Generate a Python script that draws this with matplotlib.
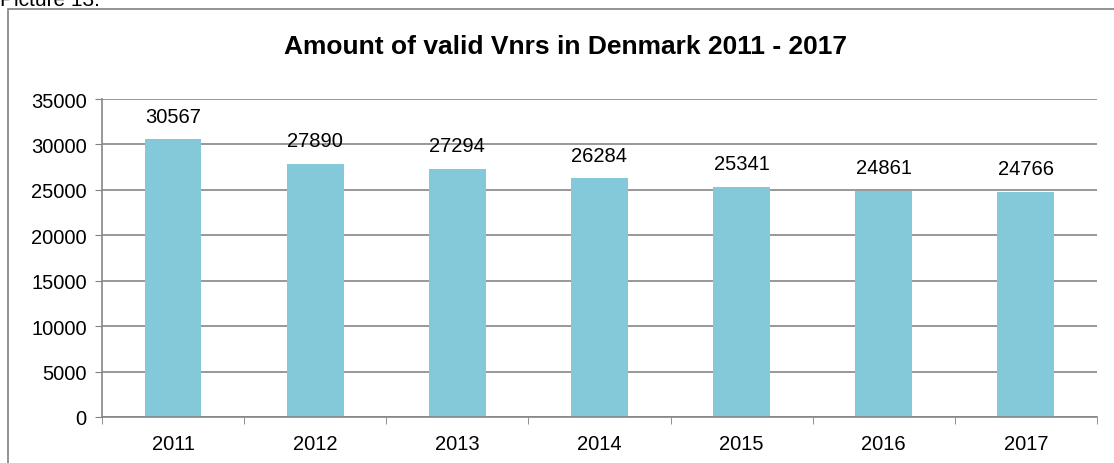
import matplotlib.pyplot as plt
from matplotlib.patches import Rectangle

years = ['2011', '2012', '2013', '2014', '2015', '2016', '2017']
vnrs = [30567, 27890, 27294, 26284, 25341, 24861, 24766]

plt.rcParams['font.family'] = ['Liberation Sans', 'DejaVu Sans']

W, H = 1114, 464
fig = plt.figure(figsize=(W / 100, H / 100), dpi=100)

# caption above the chart frame, partly cut off like in the source
fig.text(0 / W, 1 - 1 / H, 'Picture 13:', fontsize=15, ha='left', va='center', color='black')

# outer frame of the chart object
fig.patches.append(Rectangle((8 / W, -0.1), 1.2, 1 - 10 / H + 0.1, transform=fig.transFigure,
                             fill=False, edgecolor='#808080', linewidth=1.2))

ax = fig.add_axes([102 / W, 1 - 418 / H, (1097 - 102) / W, (418 - 100) / H])
x = range(len(years))
ax.bar(x, vnrs, width=0.4, color='#84C9DA', zorder=2)
for i, v in enumerate(vnrs):
    ax.text(i, v + 1500, str(v), ha='center', va='bottom', fontsize=14.5)

ax.set_xlim(-0.5, len(years) - 0.5)
ax.set_ylim(0, 35000)
ax.set_yticks(range(0, 35001, 5000))
ax.set_xticks(x)
ax.set_xticklabels(years)
ax.tick_params(axis='both', labelsize=14.5, color='#808080', length=5)
ax.tick_params(axis='y', direction='out', pad=6)
ax.tick_params(axis='x', length=0, pad=12)
# minor ticks between categories on the x axis
ax.set_xticks([i + 0.5 for i in range(-1, len(years))], minor=True)
ax.tick_params(axis='x', which='minor', direction='out', length=5, color='#808080')
ax.grid(axis='y', color='#868686', linewidth=1.2, zorder=0)
for s in ['top', 'right']:
    ax.spines[s].set_visible(False)
for s in ['left', 'bottom']:
    ax.spines[s].set_color('#868686')
    ax.spines[s].set_linewidth(1.2)

fig.text(566 / W, 1 - 47 / H, 'Amount of valid Vnrs in Denmark 2011 - 2017',
         ha='center', va='center', fontsize=19, fontweight='bold')

fig.savefig('out.png', dpi=100)
